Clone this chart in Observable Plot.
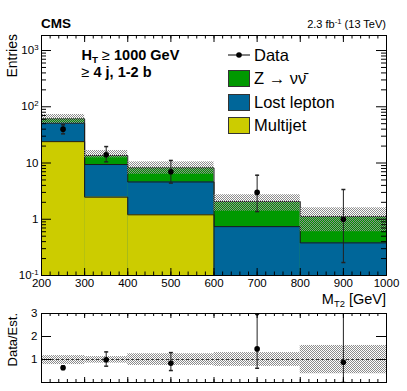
<!DOCTYPE html>
<html><head><meta charset="utf-8">
<script src="https://cdn.jsdelivr.net/npm/d3@7"></script>
<script src="https://cdn.jsdelivr.net/npm/@observablehq/plot@0.6"></script>
<style>
html,body{margin:0;padding:0;background:#fff;}
#chart{position:relative;width:407px;height:391px;font-family:"Liberation Sans",Arial,Helvetica,sans-serif;}
#chart svg{display:block;overflow:visible;}
</style></head><body><div id="chart"></div>
<script>
// ---- data ----
const binLow = [200, 300, 400, 600, 800];
const binHigh = [300, 400, 600, 800, 1000];
const binCenter = [250, 350, 500, 700, 900];
const multijet = [24, 2.47, 1.2, 0, 0];
const lostLepton = [27, 6.93, 3.4, 0.74, 0.38];
const zInv = [10, 4.2, 3.6, 1.33, 0.74];
const uncLow = [50, 12.3, 6.3, 1.39, 0.6];
const uncHigh = [73, 16.7, 10.5, 2.73, 1.6];
const dataVal = [40, 14, 7, 3, 1];
const dataLow = [33, 10.5, 4.4, 1.37, 0.17];
const dataHigh = [47.8, 19.6, 11.1, 6.07, 3.38];
const ratioVal = [0.64, 0.99, 0.84, 1.46, 0.88];
const ratioLow = [0.57, 0.71, 0.52, 0.62, 0];
const ratioHigh = [0.72, 1.33, 1.3, 2.96, 3.4];
const ratioUncLow = [0.78, 0.84, 0.74, 0.70, 0.38];
const ratioUncHigh = [1.17, 1.13, 1.25, 1.30, 1.61];
const xTicks = [200, 300, 400, 500, 600, 700, 800, 900, 1000];
const yTicks = [0.1, 1, 10, 100, 1000];
const ratioTicks = [1, 2, 3];
const legendLabels = ["Data", "Z \u2192 \u03BD\u03BD\u0304", "Lost lepton", "Multijet"];
const colors = {z: "#009900", ll: "#006699", mj: "#cccc00"};

// ---- derived tables ----
const yMin = 0.1, yMax = 1850;
const bins = binLow.map((lo, i) => ({
  lo, hi: binHigh[i], c: binCenter[i],
  mj: multijet[i], ll: multijet[i] + lostLepton[i], tot: multijet[i] + lostLepton[i] + zInv[i],
  uLo: uncLow[i], uHi: uncHigh[i], d: dataVal[i], dLo: dataLow[i], dHi: dataHigh[i],
  r: ratioVal[i], rLo: ratioLow[i], rHi: ratioHigh[i], ruLo: ratioUncLow[i], ruHi: ratioUncHigh[i]
}));
const last = bins[bins.length - 1];
const steps = [...bins.map(b => ({x: b.lo, mj: b.mj, ll: b.ll, tot: b.tot})), {x: last.hi, mj: last.mj, ll: last.ll, tot: last.tot}];
const xMinor = d3.range(xTicks[0], xTicks[xTicks.length - 1] + 1, 20);
const yMinor = [];
for (let k = -1; k <= 3; k++) for (let m = 2; m <= 9; m++) { const v = m * Math.pow(10, k); if (v < yMax) yMinor.push(v); }

const W = 407, ML = 41, MR = 21;
const FW = W - ML - MR;
const H1 = 310, MT1 = 35, MB1 = 35, FH1 = H1 - MT1 - MB1;
const H2 = 81, MT2 = 3, MB2 = 9, FH2 = H2 - MT2 - MB2;
const font = "Liberation Sans, Arial, Helvetica, sans-serif";
const outline = "#1a1a1a";
const capSymbol = {draw(ctx) { ctx.moveTo(-2, 0); ctx.lineTo(2, 0); }};
const clampY = k => d => Math.max(d[k], yMin);

const main = Plot.plot({
  width: W, height: H1, marginTop: MT1, marginBottom: MB1, marginLeft: ML, marginRight: MR,
  style: {fontFamily: font, fontSize: "11.5px", background: "transparent", overflow: "visible", color: "black"},
  x: {domain: [200, 1000]},
  y: {type: "log", domain: [yMin, yMax]},
  marks: [
    Plot.rect(bins, {x1: "lo", x2: "hi", y1: () => yMin, y2: "tot", fill: colors.z}),
    Plot.line(steps, {x: "x", y: clampY("tot"), curve: "step-after", stroke: outline, strokeWidth: 1}),
    Plot.rect(bins, {x1: "lo", x2: "hi", y1: () => yMin, y2: "ll", fill: colors.ll}),
    Plot.line(steps, {x: "x", y: clampY("ll"), curve: "step-after", stroke: outline, strokeWidth: 1}),
    Plot.rect(bins.filter(b => b.mj > 0), {x1: "lo", x2: "hi", y1: () => yMin, y2: "mj", fill: colors.mj}),
    Plot.line(steps, {x: "x", y: clampY("mj"), curve: "step-after", stroke: outline, strokeWidth: 1}),
    Plot.rect(bins, {x1: "lo", x2: "hi", y1: "uLo", y2: "uHi", fill: "url(#hatchMain)"}),
    Plot.ruleX(bins, {x: "c", y1: "dLo", y2: "dHi", stroke: "#222", strokeWidth: 1}),
    Plot.dot(bins, {x: "c", y: "dLo", symbol: capSymbol, stroke: "#222", fill: "none"}),
    Plot.dot(bins, {x: "c", y: "dHi", symbol: capSymbol, stroke: "#222", fill: "none"}),
    Plot.dot(bins, {x: "c", y: "d", r: 2.8, fill: "black", stroke: "none"}),
    Plot.ruleX(xTicks, {insetTop: FH1 - 7, stroke: "black"}),
    Plot.ruleX(xTicks, {insetBottom: FH1 - 7, stroke: "black"}),
    Plot.ruleX(xMinor, {insetTop: FH1 - 3.5, stroke: "black"}),
    Plot.ruleX(xMinor, {insetBottom: FH1 - 3.5, stroke: "black"}),
    Plot.ruleY(yTicks, {insetRight: FW - 10, stroke: "black"}),
    Plot.ruleY(yTicks, {insetLeft: FW - 10, stroke: "black"}),
    Plot.ruleY(yMinor, {insetRight: FW - 5, stroke: "black"}),
    Plot.ruleY(yMinor, {insetLeft: FW - 5, stroke: "black"}),
    Plot.frame({stroke: "black", strokeWidth: 1}),
    Plot.axisX({ticks: xTicks, tickSize: 0, tickPadding: 3, label: null, tickFormat: d => String(d)}),
    Plot.axisY({ticks: yTicks, tickSize: 0, tickPadding: 3, label: null,
      tickFormat: d => d === 1 ? "1" : d === 10 ? "10" : "10^" + Math.round(Math.log10(d))})
  ]
});

const ratio = Plot.plot({
  width: W, height: H2, marginTop: MT2, marginBottom: MB2, marginLeft: ML, marginRight: MR,
  style: {fontFamily: font, fontSize: "11.5px", background: "transparent", overflow: "visible", color: "black"},
  x: {domain: [200, 1000], axis: null},
  y: {domain: [0, 3]},
  marks: [
    Plot.rect(bins, {x1: "lo", x2: "hi", y1: "ruLo", y2: "ruHi", fill: "url(#hatchRatio)"}),
    Plot.ruleY([1], {stroke: "#333", strokeDasharray: "3,2", strokeWidth: 1}),
    Plot.ruleX(bins, {x: "c", y1: "rLo", y2: "rHi", stroke: "#222", strokeWidth: 1, clip: true}),
    Plot.dot(bins, {x: "c", y: "rLo", symbol: capSymbol, stroke: "#222", fill: "none", clip: true}),
    Plot.dot(bins, {x: "c", y: "rHi", symbol: capSymbol, stroke: "#222", fill: "none", clip: true}),
    Plot.dot(bins, {x: "c", y: "r", r: 2.8, fill: "black", stroke: "none"}),
    Plot.ruleX(xTicks, {insetTop: FH2 - 5, stroke: "black"}),
    Plot.ruleX(xTicks, {insetBottom: FH2 - 5, stroke: "black"}),
    Plot.ruleX(xMinor, {insetTop: FH2 - 3, stroke: "black"}),
    Plot.ruleX(xMinor, {insetBottom: FH2 - 3, stroke: "black"}),
    Plot.ruleY(ratioTicks, {insetRight: FW - 10, stroke: "black"}),
    Plot.ruleY(ratioTicks, {insetLeft: FW - 10, stroke: "black"}),
    Plot.frame({stroke: "black", strokeWidth: 1}),
    Plot.axisY({ticks: ratioTicks, tickSize: 0, tickPadding: 4, label: null, tickFormat: d => String(d)})
  ]
});

function addHatch(svg, id) {
  const p = d3.select(svg).insert("defs", ":first-child").append("pattern")
    .attr("id", id).attr("patternUnits", "userSpaceOnUse").attr("width", 2).attr("height", 2);
  p.append("rect").attr("x", 0).attr("y", 0).attr("width", 1).attr("height", 1).attr("fill", "#8c8c8c");
  p.append("rect").attr("x", 1).attr("y", 1).attr("width", 1).attr("height", 1).attr("fill", "#8c8c8c");
}
addHatch(main, "hatchMain");
addHatch(ratio, "hatchRatio");

// superscripts on log tick labels
d3.select(main).selectAll('g[aria-label="y-axis tick label"] text').each(function() {
  const t = d3.select(this); const s = t.text();
  if (s.includes("^")) {
    const [b, e] = s.split("^");
    t.text(null);
    t.append("tspan").text(b);
    t.append("tspan").attr("font-size", "0.68em").attr("dy", "-0.6em").text(e);
  }
});

const sm = d3.select(main).append("g").attr("font-family", font).attr("fill", "black").attr("text-anchor", "start");
sm.append("text").attr("x", 41).attr("y", 28).attr("font-size", 13.5).attr("font-weight", "bold").text("CMS");
const lumi = sm.append("text").attr("x", 386).attr("y", 27.5).attr("font-size", 11).attr("text-anchor", "end");
lumi.append("tspan").text("2.3 fb");
lumi.append("tspan").attr("font-size", "0.7em").attr("dy", "-0.5em").text("-1");
lumi.append("tspan").attr("dy", "0.35em").text(" (13 TeV)");
sm.append("text").attr("transform", "translate(16.5,34) rotate(-90)").attr("text-anchor", "end").attr("font-size", 14).text("Entries");
const ht = sm.append("text").attr("x", 81.5).attr("y", 60).attr("font-size", 14.5).attr("font-weight", "bold");
ht.append("tspan").text("H");
ht.append("tspan").attr("font-size", "0.68em").attr("dy", "0.3em").text("T");
ht.append("tspan").attr("dy", "-0.2em").attr("font-weight", "normal").text(" \u2265 ");
ht.append("tspan").text("1000 GeV");
const nj = sm.append("text").attr("x", 81.5).attr("y", 77).attr("font-size", 14.5).attr("font-weight", "bold");
nj.append("tspan").attr("font-weight", "normal").text("\u2265 ");
nj.append("tspan").text("4 j, 1-2 b");
const mt = sm.append("text").attr("x", 386).attr("y", 304).attr("font-size", 14.5).attr("text-anchor", "end");
mt.append("tspan").text("M");
mt.append("tspan").attr("font-size", "0.65em").attr("dy", "0.35em").text("T2");
mt.append("tspan").attr("dy", "-0.25em").text(" [GeV]");

// legend
const lg = sm.append("g");
const rowY = [55, 78, 102, 125];
lg.append("line").attr("x1", 228).attr("x2", 250).attr("y1", rowY[0]).attr("y2", rowY[0]).attr("stroke", "black");
lg.append("circle").attr("cx", 239).attr("cy", rowY[0]).attr("r", 2.8).attr("fill", "black");
[colors.z, colors.ll, colors.mj].forEach((c, i) => {
  lg.append("rect").attr("x", 228.5).attr("y", rowY[i + 1] - 7.5).attr("width", 21).attr("height", 16)
    .attr("fill", c).attr("stroke", "#333").attr("stroke-width", 1);
});
legendLabels.forEach((l, i) => {
  lg.append("text").attr("x", 254).attr("y", rowY[i] + 6).attr("font-size", 16.5).text(l);
});

d3.select(ratio).append("text").attr("transform", "translate(16.5,3) rotate(-90)").attr("text-anchor", "end")
  .attr("font-family", font).attr("font-size", 13).attr("fill", "black").text("Data/Est.");

document.getElementById("chart").append(main, ratio);
</script></body></html>
